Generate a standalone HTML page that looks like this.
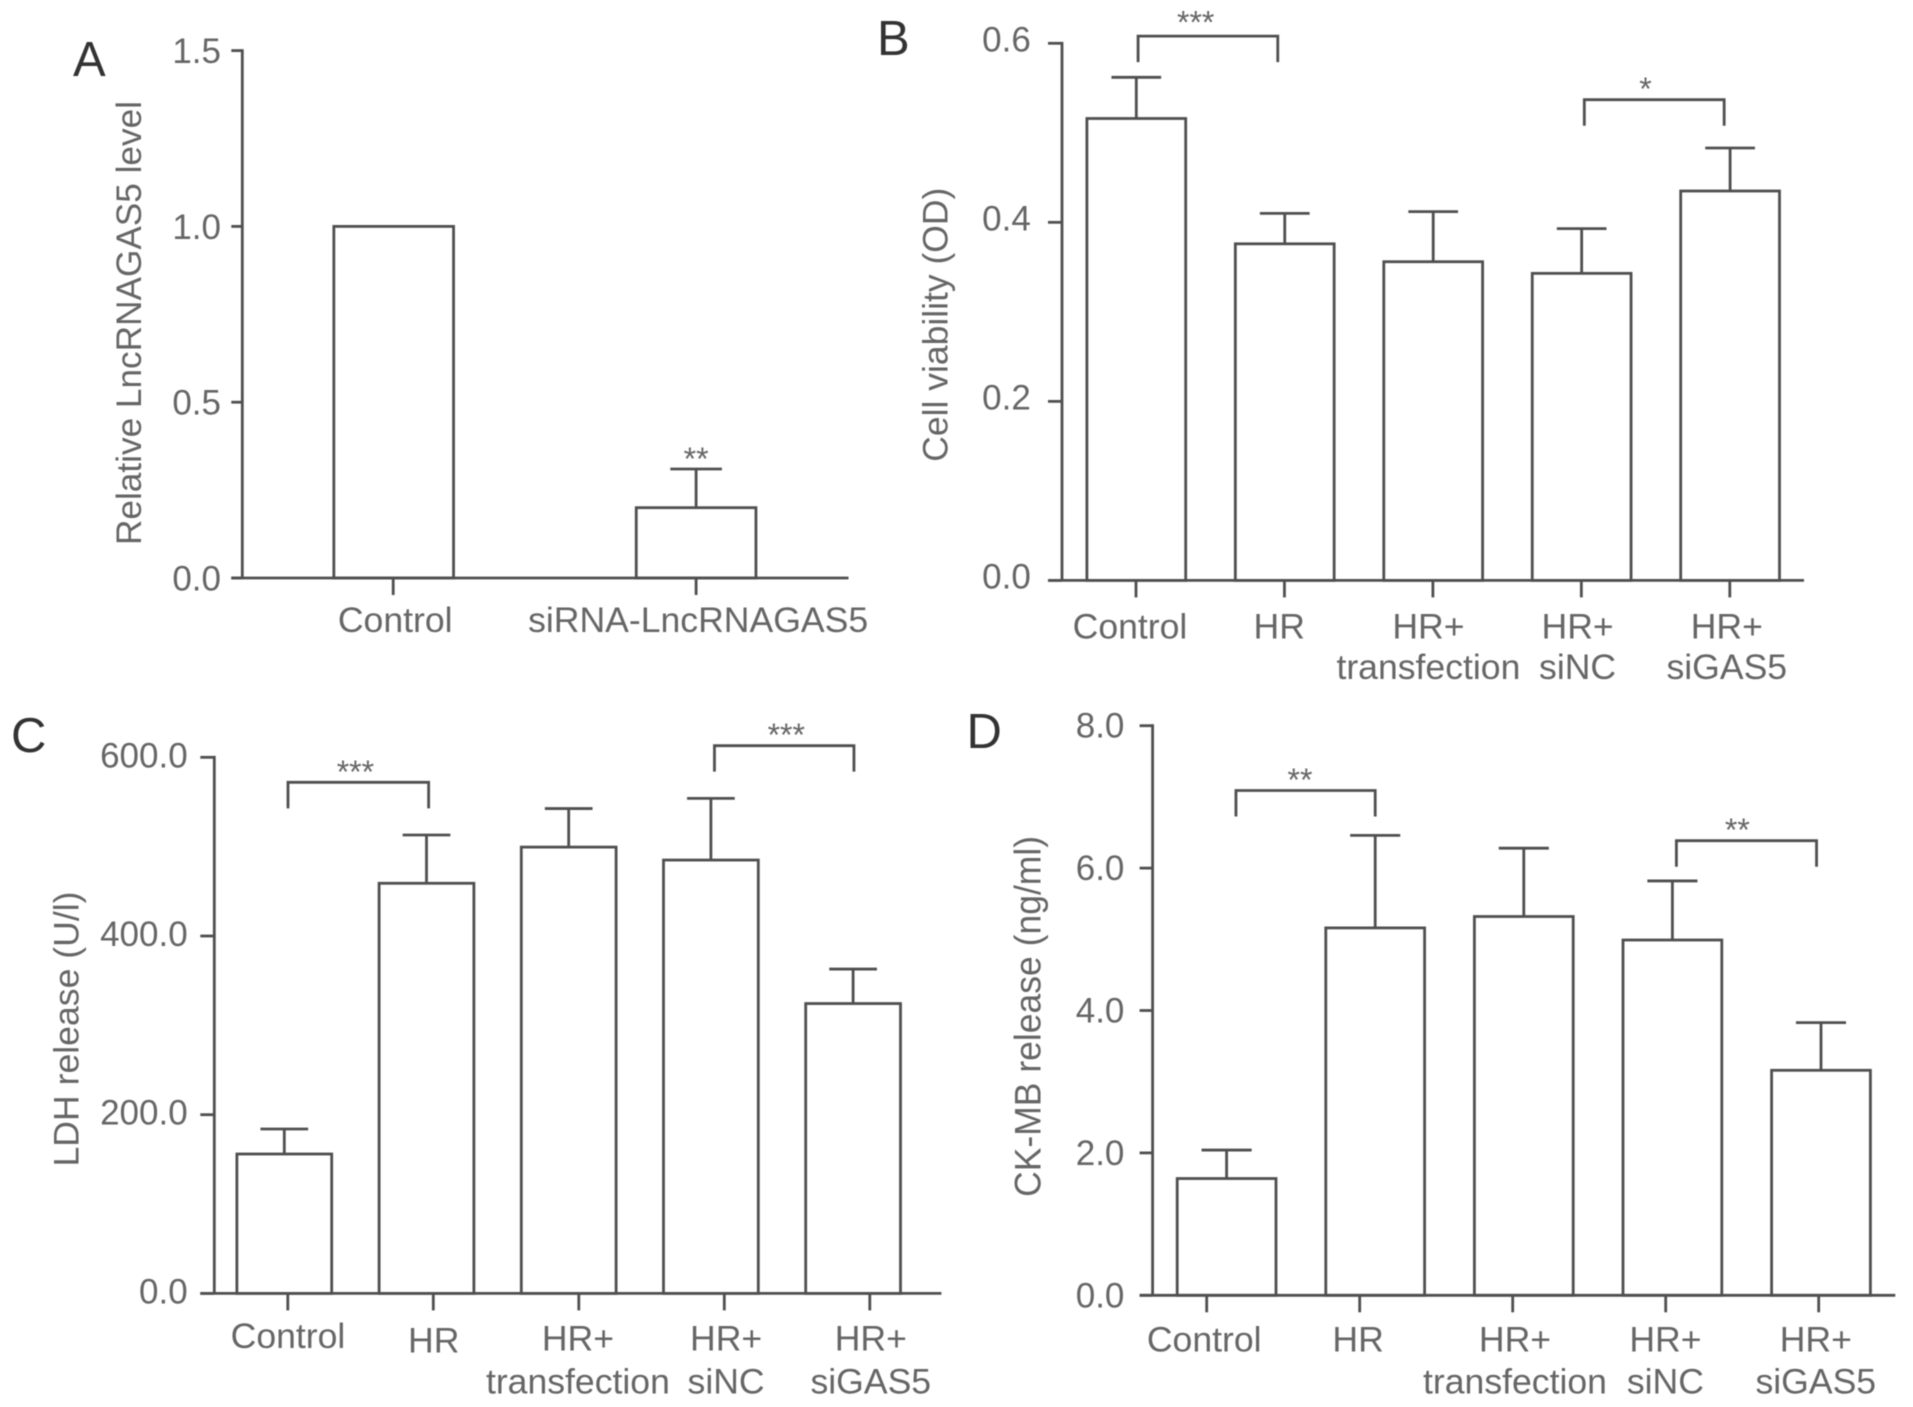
<!DOCTYPE html>
<html lang="en">
<head>
<meta charset="utf-8">
<title>LncRNA GAS5 bar charts</title>
<style>
html,body{margin:0;padding:0;background:#fff;width:1913px;height:1407px;overflow:hidden}
svg{display:block;filter:blur(0.5px)}
text{font-family:"Liberation Sans",sans-serif;fill:#666}
.letter{font-size:49px;fill:#333}
.ylab{text-anchor:middle}
</style>
</head>
<body>
<svg id="figure" xmlns="http://www.w3.org/2000/svg" width="1913" height="1407" viewBox="0 0 1913 1407">
  <rect width="1913" height="1407" fill="#fff"/>
  <text class="letter" x="73" y="76">A</text>
  <text class="letter" x="877" y="55">B</text>
  <text class="letter" x="11" y="752">C</text>
  <text class="letter" x="966.5" y="748">D</text>
  <text class="ylab" font-size="35" textLength="444" lengthAdjust="spacingAndGlyphs" transform="translate(141 323) rotate(-90)">Relative LncRNAGAS5 level</text>
  <text class="ylab" font-size="35" textLength="274" lengthAdjust="spacingAndGlyphs" transform="translate(947.4 324.7) rotate(-90)">Cell viability (OD)</text>
  <text class="ylab" font-size="35" textLength="275" lengthAdjust="spacingAndGlyphs" transform="translate(78.4 1029) rotate(-90)">LDH release (U/l)</text>
  <text class="ylab" font-size="37" textLength="361" lengthAdjust="spacingAndGlyphs" transform="translate(1040.4 1016.4) rotate(-90)">CK-MB release (ng/ml)</text>
</svg>
<script>
// Panel A data
var aCategories = [['Control'], ['siRNA-LncRNAGAS5']];
var aValues = [1.0, 0.2];
var aErrorTops = [null, 0.31];
var aTickValues = [0, 0.5, 1.0, 1.5];
var aTickLabels = ['0.0', '0.5', '1.0', '1.5'];
var aBarMarks = ['', '**'];

// Panel B data
var bCategories = [['Control'], ['HR'], ['HR+', 'transfection'], ['HR+', 'siNC'], ['HR+', 'siGAS5']];
var bValues = [0.516, 0.376, 0.356, 0.343, 0.435];
var bErrorTops = [0.562, 0.410, 0.412, 0.393, 0.483];
var bTickValues = [0, 0.2, 0.4, 0.6];
var bTickLabels = ['0.0', '0.2', '0.4', '0.6'];
var bBracketFrom = [0.012, 3.018];
var bBracketTo = [0.953, 3.96];
var bBracketLevel = [0.608, 0.537];
var bBracketMarks = ['***', '*'];
var bMarkAt = [0.40, 3.43];

// Panel C data
var cCategories = bCategories;
var cValues = [156, 459, 499.5, 485, 324.4];
var cErrorTops = [184, 513, 542.6, 554, 363];
var cTickValues = [0, 200, 400, 600];
var cTickLabels = ['0.0', '200.0', '400.0', '600.0'];
var cBracketFrom = [0.026, 3.025];
var cBracketTo = [1.015, 4.006];
var cBracketLevel = [572, 613];
var cBracketMarks = ['***', '***'];
var cMarkAt = [0.50, 3.53];

// Panel D data
var dCategories = bCategories;
var dValues = [1.64, 5.16, 5.32, 4.99, 3.16];
var dErrorTops = [2.04, 6.46, 6.28, 5.82, 3.83];
var dTickValues = [0, 2, 4, 6, 8];
var dTickLabels = ['0.0', '2.0', '4.0', '6.0', '8.0'];
var dBracketFrom = [0.063, 3.027];
var dBracketTo = [1.0, 3.97];
var dBracketLevel = [7.09, 6.385];
var dBracketMarks = ['**', '**'];
var dMarkAt = [0.494, 3.437];

var NS = 'http://www.w3.org/2000/svg';
var LINE = '#4f4f4f';
var LW = 2.8;
var svg = document.getElementById('figure');

function make(tag, attrs, parent) {
  var n = document.createElementNS(NS, tag);
  for (var k in attrs) n.setAttribute(k, attrs[k]);
  parent.appendChild(n);
  return n;
}
function segment(x1, y1, x2, y2, parent) {
  return make('line', {x1: x1, y1: y1, x2: x2, y2: y2, stroke: LINE, 'stroke-width': LW}, parent);
}

function drawPanel(id, L, categories, values, errorTops, tickValues, tickLabels, br) {
  var maxV = tickValues[tickValues.length - 1];
  function yScale(v) { return L.y0 - v * (L.y0 - L.yTop) / maxV; }
  function barX(i) { return L.barStart + i * L.barStep; }
  function tickX(i) { return L.tickStart + i * L.tickStep; }
  function labelX(i) { return L.labelStart + i * L.labelStep + (L.labelDx ? L.labelDx[i] : 0); }

  var g = make('g', {}, svg);
  
  

  // bars and error bars
  values.forEach(function (v, i) {
    var bar = make('rect', {x: barX(i) - L.barW / 2, y: yScale(v), width: L.barW, height: L.y0 - yScale(v), fill: '#fff', stroke: LINE, 'stroke-width': LW}, g);
    
    
    if (errorTops[i] !== null) {
      var stem = segment(barX(i), yScale(v), barX(i), yScale(errorTops[i]), g);
      
      
      var cap = segment(barX(i) - L.capW / 2, yScale(errorTops[i]), barX(i) + L.capW / 2, yScale(errorTops[i]), g);
      
      
    }
  });

  // y axis
  var yAxis = segment(L.axisX, yScale(maxV) - LW / 2, L.axisX, L.y0, g);
  
  
  tickValues.forEach(function (t, i) {
    var tk = segment(L.axisX - L.yTickLen, yScale(t), L.axisX, yScale(t), g);
    
    
    var lab = make('text', {x: L.yLabelRight, y: yScale(t) + L.yLabelDy, 'text-anchor': 'end', 'font-size': 35}, g);
    lab.textContent = tickLabels[i];
    
    
  });

  // x axis
  var xAxis = segment(L.axisX - L.yTickLen, L.y0, L.xEnd, L.y0, g);
  
  
  categories.forEach(function (lines, i) {
    var tk = segment(tickX(i), L.y0, tickX(i), L.y0 + L.xTickLen, g);
    
    
    lines.forEach(function (line, j) {
      var rowDy = L.labelDy ? L.labelDy[i] : 0;
      var lab = make('text', {x: labelX(i), y: L.labelY + rowDy * (j === 0 ? 1 : 0) + j * L.labelGap, 'text-anchor': 'middle', 'font-size': 35.6}, g);
      lab.textContent = line;
      
      
    });
  });

  // significance brackets
  if (br) {
    br.from.forEach(function (f, i) {
      var x1 = barX(f), x2 = barX(br.to[i]), y = yScale(br.level[i]);
      var p = make('path', {d: 'M' + x1 + ' ' + (y + L.legLen) + 'V' + y + 'H' + x2 + 'V' + (y + L.legLen), fill: 'none', stroke: LINE, 'stroke-width': LW}, g);
      
      
      var s = make('text', {x: barX(br.markAt[i]), y: y + 0.5 + (L.markDy ? L.markDy[i] : 0), 'text-anchor': 'middle', 'font-size': 32, fill: '#555'}, g);
      s.textContent = br.marks[i];
      
      
    });
  }
  if (L.barMarks) {
    L.barMarks.forEach(function (m, i) {
      if (!m) return;
      var s = make('text', {x: barX(i), y: yScale(errorTops[i]) + 1, 'text-anchor': 'middle', 'font-size': 32, fill: '#555'}, g);
      s.textContent = m;
      
      
    });
  }
}

drawPanel('a', {
  axisX: 242.3, y0: 578, yTop: 50.6, xEnd: 848.5, yTickLen: 11, xTickLen: 17,
  barStart: 393.7, barStep: 302.4, barW: 119.7, capW: 51.6,
  tickStart: 393.2, tickStep: 302.9, labelStart: 395.2, labelStep: 302.9, labelY: 632, labelGap: 41,
  yLabelRight: 221, yLabelDy: 12.5, barMarks: aBarMarks
}, aCategories, aValues, aErrorTops, aTickValues, aTickLabels, null);

drawPanel('b', {
  axisX: 1062, y0: 580.4, yTop: 43.3, xEnd: 1804, yTickLen: 14, xTickLen: 17, legLen: 26,
  barStart: 1136.3, barStep: 148.45, barW: 98.8, capW: 49.7,
  tickStart: 1136, tickStep: 148.45, labelStart: 1130, labelStep: 149.2, labelY: 638.5, labelGap: 40.7,
  yLabelRight: 1030.8, yLabelDy: 8, markDy: [-3, 0]
}, bCategories, bValues, bErrorTops, bTickValues, bTickLabels,
  {from: bBracketFrom, to: bBracketTo, level: bBracketLevel, marks: bBracketMarks, markAt: bMarkAt});

drawPanel('c', {
  axisX: 214.3, y0: 1293.4, yTop: 757.3, xEnd: 941.4, yTickLen: 14, xTickLen: 17, legLen: 26,
  barStart: 284.3, barStep: 142.2, barW: 94.8, capW: 47.7,
  tickStart: 287.8, tickStep: 145.5, labelStart: 288, labelStep: 145.7, labelY: 1350.6, labelGap: 42.7,
  yLabelRight: 187.7, yLabelDy: 10, labelDy: [-2.5, 2, 0, 0, 0], labelDx: [0, 0, -1.5, 1, 0]
}, cCategories, cValues, cErrorTops, cTickValues, cTickLabels,
  {from: cBracketFrom, to: cBracketTo, level: cBracketLevel, marks: cBracketMarks, markAt: cMarkAt});

drawPanel('d', {
  axisX: 1152.6, y0: 1295.3, yTop: 725.7, xEnd: 1895.3, yTickLen: 13, xTickLen: 17, legLen: 26,
  barStart: 1226.6, barStep: 148.6, barW: 98.8, capW: 50.1,
  tickStart: 1206.7, tickStep: 153, labelStart: 1204.2, labelStep: 152.9, labelY: 1351.6, labelGap: 41.7,
  yLabelRight: 1124.4, yLabelDy: 12, labelDx: [0, 1, 5, 2.5, 0]
}, dCategories, dValues, dErrorTops, dTickValues, dTickLabels,
  {from: dBracketFrom, to: dBracketTo, level: dBracketLevel, marks: dBracketMarks, markAt: dMarkAt});
</script>
</body>
</html>
